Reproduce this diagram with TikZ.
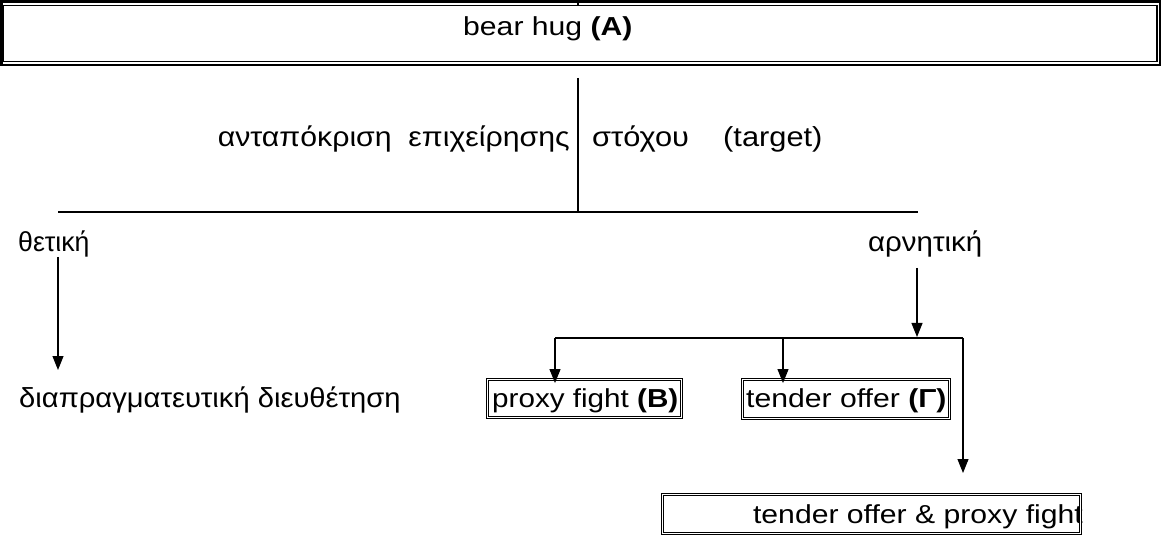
\documentclass[tikz,border=0pt]{standalone}
\usepackage{fontspec}
\setmainfont{Liberation Sans}
\usetikzlibrary{arrows.meta}
\newcommand\hs[2][1.15]{\scalebox{#1}[1]{#2}}
\begin{document}
\begin{tikzpicture}[x=1pt,y=-1pt,
  lbl/.style={inner sep=0pt, font=\fontsize{26}{30}\selectfont},
  glbl/.style={inner sep=0pt, font=\fontsize{27.5}{31}\selectfont},
  ln/.style={line width=1.1pt},
  bar/.style={line width=1.8pt},
  arr/.style={line width=1.1pt, -{Triangle[length=14pt,width=11pt]}},
  dbox/.style={draw, line width=0.9pt, double=white, double distance=1.6pt, inner sep=0pt},
]
\useasboundingbox (0,0) rectangle (1162,537);
% top box
\node[draw, line width=1.2pt, minimum width=1154pt, minimum height=56pt, inner sep=0pt] (boxA) at (580,33.5) {};
\draw[line width=2.6pt] (1.3,1.5) rectangle (1160,65.2);
\node[lbl, anchor=base west] (tA) at (463,36) {\hs[1.16]{bear hug \textbf{(A)}}};
% stem
\coordinate (ticktop) at (578,0);
\coordinate (stemtop) at (578,78);
\coordinate (barc) at (578,212);
\draw[ln] (ticktop) -- (boxA.north -| ticktop);
\draw[ln] (stemtop) -- (barc);
\node[glbl, anchor=base east] (resp) at (570,147) {\hs[1.10]{ανταπόκριση\ \ επιχείρησης}};
\node[glbl, anchor=base west] (targ) at (592,147) {\hs[1.12]{στόχου\ \ \ \ (target)}};
% first bar
\coordinate (barl) at (58,212);
\coordinate (barr) at (918,212);
\draw[bar] (barl) -- (barr);
% branches
\node[glbl, anchor=base west] (pos) at (18,252) {\hs[0.97]{θετική}};
\node[glbl, anchor=base west] (neg) at (868,252) {\hs[1.07]{αρνητική}};
\coordinate (posa) at (58,257);
\coordinate (posb) at (58,370);
\draw[arr] (posa) -- (posb);
\node[glbl, anchor=base west] (nego) at (19,407) {\hs[1.06]{διαπραγματευτική διευθέτηση}};
\coordinate (nega) at (917,268);
\coordinate (negb) at (917,337);
\draw[arr] (nega) -- (negb);
% second bar
\coordinate (b2l) at (555,338);
\coordinate (b2m) at (783,338);
\coordinate (b2r) at (963,338);
\draw[bar] (b2l) -- (b2r);
% boxes
\node[dbox, minimum width=194pt, minimum height=38pt] (B) at (584.5,398.5) {};
\node[lbl, anchor=base west] (tB) at (492,407) {\hs[1.14]{proxy fight \textbf{(B)}}};
\node[dbox, minimum width=207pt, minimum height=39pt] (G) at (846,399) {};
\node[lbl, anchor=base west] (tG) at (746,407) {\hs[1.16]{tender offer \textbf{(Γ)}}};
\node[lbl, anchor=base east] (tp) at (1083,523) {\hs[1.16]{tender offer \& proxy fight}};
\node[dbox, minimum width=418pt, minimum height=39pt] (TP) at (871.5,514) {};
% arrows
\draw[arr] (b2l) -- ([yshift=-4pt]b2l |- B.north);
\draw[arr] (b2m) -- ([yshift=-4pt]b2m |- G.north);
\draw[arr] (b2r) -- (963,473);
\end{tikzpicture}
\end{document}
